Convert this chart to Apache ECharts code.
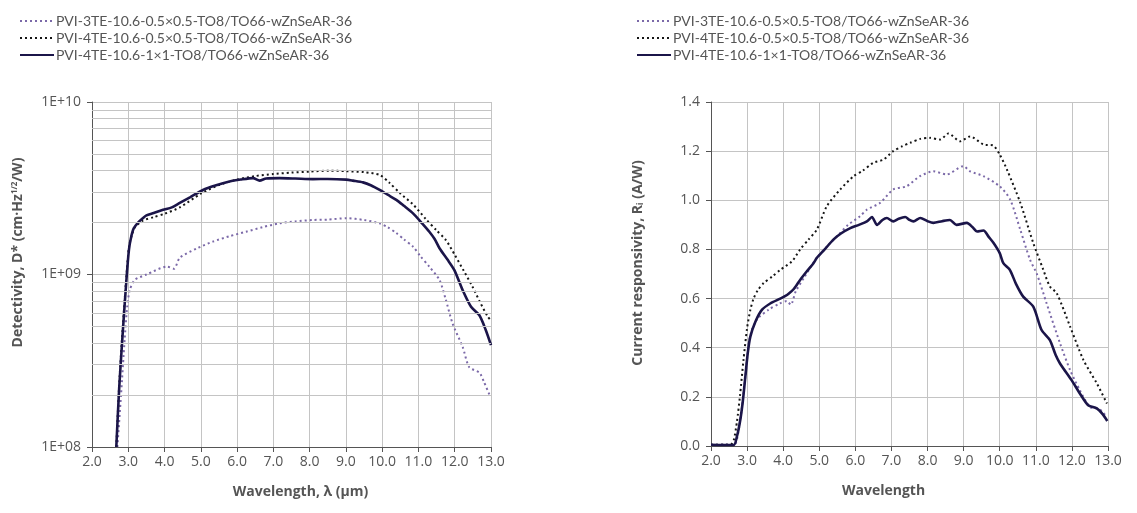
<!DOCTYPE html>
<html>
<head>
<meta charset="utf-8">
<script src="https://cdn.jsdelivr.net/npm/echarts@6/dist/echarts.min.js"></script>
<style>html,body{margin:0;padding:0;background:#fff}#c{width:1137px;height:513px}</style>
</head>
<body>
<div id="c"></div>
<script>
const seriesNames = [
  'PVI-3TE-10.6-0.5×0.5-TO8/TO66-wZnSeAR-36',
  'PVI-4TE-10.6-0.5×0.5-TO8/TO66-wZnSeAR-36',
  'PVI-4TE-10.6-1×1-TO8/TO66-wZnSeAR-36'
];
const xTicksMin = 2, xTicksMax = 13;
const logMinorGrid = [2e8,3e8,4e8,5e8,6e8,7e8,8e8,9e8,2e9,3e9,4e9,5e9,6e9,7e9,8e9,9e9];

// ---- Detectivity (left) ----
const detWl3TE = [2.7,2.8,2.9,2.97,3.04,3.18,3.5,4.07,4.26,4.42,4.9,5.33,5.8,6.25,6.7,7.17,7.6,8.09,8.5,9.01,9.5,9.93,10.15,10.39,10.6,10.85,11.05,11.3,11.58,11.75,11.94,12.22,12.4,12.68,12.8,12.96];
const detVal3TE = [1.0e8,2.0e8,4.2e8,6.5e8,8.1e8,9.3e8,1.0e9,1.11e9,1.08e9,1.25e9,1.42e9,1.55e9,1.67e9,1.77e9,1.88e9,1.98e9,2.03e9,2.07e9,2.08e9,2.12e9,2.07e9,1.98e9,1.88e9,1.74e9,1.6e9,1.45e9,1.28e9,1.11e9,9.3e8,7.2e8,5.2e8,3.8e8,2.9e8,2.7e8,2.4e8,2.0e8];

const detWl4TE05 = [2.67,2.75,2.85,2.96,3.02,3.1,3.2,3.4,3.7,4.0,4.42,5.01,5.5,6.0,6.5,6.99,7.5,8.0,8.55,9.0,9.5,9.93,10.2,10.5,10.85,11.2,11.5,11.76,12.0,12.25,12.49,12.7,12.91,13.0];
const detVal4TE05 = [1.0e8,2.3e8,5.0e8,1.05e9,1.45e9,1.7e9,1.9e9,2.05e9,2.15e9,2.25e9,2.45e9,2.95e9,3.3e9,3.55e9,3.72e9,3.82e9,3.9e9,3.95e9,4.0e9,3.97e9,3.92e9,3.78e9,3.4e9,2.95e9,2.55e9,2.1e9,1.8e9,1.58e9,1.3e9,1.05e9,8.5e8,6.9e8,5.7e8,5.4e8];

const detWl4TE1 = [2.67,2.75,2.85,2.96,3.02,3.08,3.15,3.27,3.4,3.5,3.7,3.96,4.2,4.42,4.7,5.06,5.4,5.79,6.1,6.44,6.62,6.8,7.17,7.6,8.09,8.5,9.01,9.2,9.47,9.7,9.93,10.15,10.39,10.6,10.85,11.1,11.3,11.45,11.58,11.8,11.99,12.22,12.45,12.68,12.85,13.0];
const detVal4TE1 = [1.0e8,2.2e8,4.7e8,1.0e9,1.4e9,1.65e9,1.85e9,2.0e9,2.12e9,2.2e9,2.27e9,2.37e9,2.45e9,2.6e9,2.8e9,3.09e9,3.28e9,3.46e9,3.55e9,3.62e9,3.5e9,3.6e9,3.62e9,3.6e9,3.57e9,3.58e9,3.55e9,3.5e9,3.42e9,3.28e9,3.09e9,2.9e9,2.71e9,2.5e9,2.26e9,1.98e9,1.77e9,1.6e9,1.42e9,1.22e9,1.06e9,8.1e8,6.5e8,5.8e8,4.8e8,3.9e8];

// ---- Responsivity (right) ----
const resWl3TE = [2.0,2.4,2.65,2.75,2.85,2.95,3.05,3.15,3.3,3.6,3.9,4.1,4.21,4.35,4.6,4.9,5.2,5.5,5.8,6.13,6.32,6.69,7.05,7.42,7.79,8.16,8.53,8.99,9.18,9.55,10.0,10.29,10.57,10.84,11.03,11.3,11.67,11.95,12.22,12.5,12.77,12.95];
const resVal3TE = [0.005,0.006,0.005,0.05,0.15,0.28,0.42,0.48,0.52,0.555,0.58,0.59,0.575,0.63,0.69,0.76,0.81,0.855,0.9,0.935,0.962,0.99,1.044,1.057,1.098,1.118,1.105,1.139,1.118,1.098,1.057,1.003,0.88,0.758,0.70,0.58,0.418,0.309,0.227,0.159,0.15,0.12];

const resWl4TE05 = [2.0,2.4,2.55,2.63,2.72,2.8,2.9,3.0,3.09,3.18,3.3,3.46,3.7,3.92,4.24,4.47,4.7,4.93,5.21,5.58,5.95,6.2,6.5,6.78,7.05,7.3,7.52,7.8,8.07,8.35,8.58,8.9,9.18,9.55,9.82,10.0,10.2,10.57,10.93,11.2,11.39,11.58,11.95,12.32,12.69,12.97];
const resVal4TE05 = [0.005,0.005,0.006,0.023,0.1,0.2,0.35,0.48,0.554,0.6,0.635,0.663,0.69,0.717,0.751,0.8,0.84,0.88,0.976,1.044,1.098,1.12,1.153,1.166,1.2,1.22,1.234,1.25,1.254,1.247,1.272,1.24,1.26,1.227,1.223,1.186,1.125,0.99,0.826,0.72,0.649,0.622,0.486,0.35,0.255,0.173];

const resWl4TE1 = [2.0,2.3,2.63,2.72,2.81,2.88,2.95,3.02,3.09,3.23,3.41,3.64,3.92,4.05,4.15,4.3,4.47,4.65,4.84,4.93,5.15,5.39,5.6,5.86,6.1,6.32,6.46,6.6,6.75,6.87,7.05,7.2,7.38,7.5,7.61,7.8,8.0,8.16,8.4,8.62,8.8,9.09,9.25,9.37,9.55,9.7,9.83,10.0,10.1,10.28,10.45,10.65,10.93,11.16,11.39,11.55,11.67,11.99,12.22,12.45,12.69,12.85,12.98];
const resVal4TE1 = [0.005,0.004,0.004,0.04,0.105,0.18,0.28,0.38,0.445,0.506,0.554,0.58,0.6,0.61,0.62,0.64,0.676,0.71,0.744,0.765,0.8,0.84,0.865,0.887,0.9,0.914,0.932,0.9,0.92,0.928,0.914,0.925,0.932,0.92,0.914,0.928,0.915,0.908,0.915,0.92,0.9,0.908,0.89,0.873,0.877,0.85,0.826,0.785,0.744,0.717,0.66,0.608,0.567,0.472,0.431,0.37,0.336,0.268,0.214,0.166,0.153,0.13,0.102];

const zip = (xs, ys) => xs.map((x, i) => [x, ys[i]]);

const colPurple = '#7b69a8', colBlack = '#151515', colNavy = '#1b1549';
const gridCol = '#c4c4c4', axisCol = '#555', textCol = '#555';
const FONT = "'Open Sans', sans-serif";

function xAxisCfg(gi, name, pad) {
  return {
    gridIndex: gi, type: 'value', min: xTicksMin, max: xTicksMax, interval: 1,
    name: name, nameLocation: 'middle', nameGap: 38,
    nameTextStyle: { fontFamily: FONT, fontWeight: 'bold', fontSize: 14, color: textCol, padding: pad },
    axisLine: { show: true, lineStyle: { color: axisCol, width: 1 } },
    axisTick: { show: true, length: 5, lineStyle: { color: axisCol } },
    axisLabel: { fontFamily: FONT, fontSize: 14, color: textCol, margin: 8, formatter: v => v.toFixed(1) },
    splitLine: { show: true, lineStyle: { color: gridCol, width: 1 } }
  };
}

function lineSeries(name, color, dashed, xi, yi, data, width) {
  return {
    name: name, type: 'line', xAxisIndex: xi, yAxisIndex: yi, data: data,
    showSymbol: false, symbol: 'none', smooth: 0.25, z: 3,
    lineStyle: { color: color, width: width, type: dashed ? [2, 3] : 'solid' },
    itemStyle: { color: color }
  };
}

const chart = echarts.init(document.getElementById('c'), null, { renderer: 'canvas' });
const legendBase = {
  orient: 'vertical', top: 9, itemWidth: 34, itemHeight: 10, itemGap: 3,
  itemStyle: { opacity: 0 },
  textStyle: { fontFamily: 'Lato', fontSize: 14, lineHeight: 13.5, color: textCol, padding: [0, 0, 0, -3] },
  data: seriesNames, selectedMode: false
};
chart.setOption({
  animation: false,
  backgroundColor: '#fff',
  legend: [
    Object.assign({}, legendBase, { left: 14 }),
    Object.assign({}, legendBase, { left: 631 })
  ],
  grid: [
    { left: 92, right: 646, top: 102, bottom: 66 },
    { left: 711, right: 29, top: 102, bottom: 67 }
  ],
  xAxis: [
    xAxisCfg(0, 'Wavelength, λ (µm)', [0, 0, 0, 18]),
    xAxisCfg(1, 'Wavelength', [0, 52, 0, 0])
  ],
  yAxis: [
    {
      gridIndex: 0, type: 'log', logBase: 10, min: 1e8, max: 1e10,
      name: 'Detectivity, D* (cm·Hz{sup|1/2}/W)', nameLocation: 'middle', nameGap: 66,
      nameTextStyle: { fontFamily: FONT, fontWeight: 'bold', fontSize: 14, color: textCol, padding: [0, 0, 0, 44],
        rich: { sup: { fontFamily: FONT, fontSize: 8, color: textCol, verticalAlign: 'top', padding: [0, 0, 7, 0] } } },
      axisLine: { show: true, lineStyle: { color: axisCol, width: 1 } },
      axisTick: { show: true, length: 5, lineStyle: { color: axisCol } },
      axisLabel: { fontFamily: FONT, fontSize: 14, color: textCol, margin: 11,
        formatter: v => '1E+' + String(Math.round(Math.log10(v))).padStart(2, '0') },
      splitLine: { show: true, lineStyle: { color: gridCol, width: 1 } }
    },
    {
      gridIndex: 1, type: 'value', min: 0, max: 1.4, interval: 0.2,
      name: 'Current responsivity, R{sub|i} (A/W)', nameLocation: 'middle', nameGap: 66,
      nameTextStyle: { fontFamily: FONT, fontWeight: 'bold', fontSize: 14, color: textCol, padding: [0, 0, 0, 22],
        rich: { sub: { fontFamily: FONT, fontWeight: 'bold', fontSize: 8, color: textCol, padding: [6, 0, 0, 0] } } },
      axisLine: { show: true, lineStyle: { color: axisCol, width: 1 } },
      axisTick: { show: true, length: 5, lineStyle: { color: axisCol } },
      axisLabel: { fontFamily: FONT, fontSize: 14, color: textCol, margin: 11, formatter: v => v.toFixed(1) },
      splitLine: { show: true, lineStyle: { color: gridCol, width: 1 } }
    }
  ],
  series: [
    {
      name: 'minor-grid', type: 'line', xAxisIndex: 0, yAxisIndex: 0, data: [[2, 1e8]],
      symbol: 'none', lineStyle: { width: 0 }, z: 1,
      markLine: {
        silent: true, symbol: 'none', animation: false,
        label: { show: false },
        lineStyle: { color: gridCol, width: 1, type: 'solid' },
        data: logMinorGrid.map(v => ({ yAxis: v }))
      }
    },
    lineSeries(seriesNames[0], colPurple, true, 0, 0, zip(detWl3TE, detVal3TE), 2),
    lineSeries(seriesNames[1], colBlack, true, 0, 0, zip(detWl4TE05, detVal4TE05), 2),
    lineSeries(seriesNames[2], colNavy, false, 0, 0, zip(detWl4TE1, detVal4TE1), 2.6),
    lineSeries(seriesNames[0], colPurple, true, 1, 1, zip(resWl3TE, resVal3TE), 2),
    lineSeries(seriesNames[1], colBlack, true, 1, 1, zip(resWl4TE05, resVal4TE05), 2),
    lineSeries(seriesNames[2], colNavy, false, 1, 1, zip(resWl4TE1, resVal4TE1), 2.6)
  ]
});
</script>
</body>
</html>
